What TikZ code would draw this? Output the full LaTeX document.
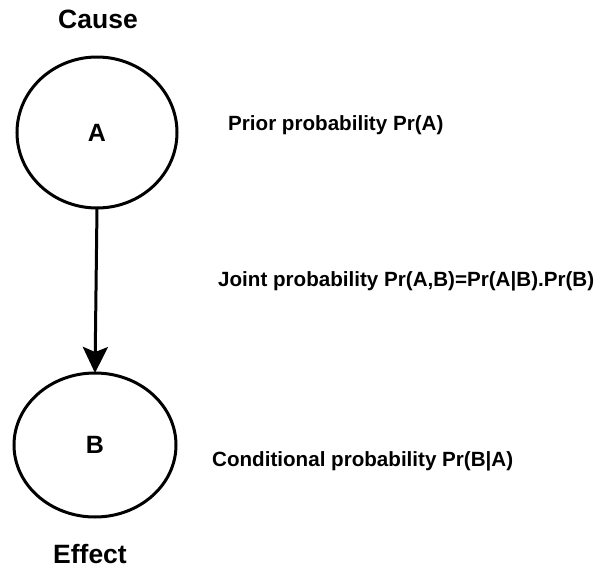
\documentclass[tikz,border=0pt]{standalone}
\usepackage{fontspec}
\setmainfont{Liberation Sans}
\usetikzlibrary{shapes.geometric,arrows.meta}
\begin{document}
\begin{tikzpicture}[x=1pt,y=-1pt,
  event/.style={ellipse,draw,line width=3pt,inner sep=0pt,outer sep=0pt,
    font=\fontsize{25}{30}\selectfont\bfseries},
  title/.style={inner sep=0pt,anchor=base,font=\fontsize{26.5}{32}\selectfont\bfseries},
  caption/.style={inner sep=0pt,anchor=base west,font=\fontsize{20.6}{25}\selectfont\bfseries},
  link/.style={line width=3pt,-{Stealth[length=26pt,width=25pt,inset=5pt]}}]
  \useasboundingbox (0,0) rectangle (598,568);
  % the two events
  \node[event,minimum width=160pt,minimum height=151pt] (A) at (97,132.5) {A};
  \node[event,minimum width=162pt,minimum height=144pt] (B) at (95,445) {B};
  % labels above and below
  \node[title] (cause) at (98,28) {Cause};
  \node[title] (effect) at (90,563) {Effect};
  % probability annotations
  \node[caption] (prior) at (228,130) {Prior probability Pr(A)};
  \node[caption] (joint) at (218,286) {Joint probability Pr(A,B)=Pr(A|B).Pr(B)};
  \node[caption] (cond) at (212,466) {Conditional probability Pr(B|A)};
  % causal link
  \draw[link] (A.south) -- (B.north);
\end{tikzpicture}
\end{document}
